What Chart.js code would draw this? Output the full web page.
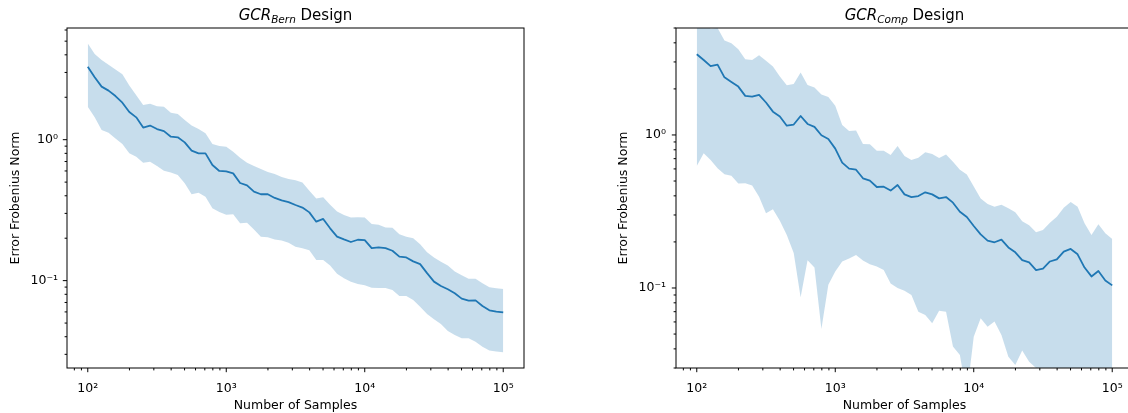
<!DOCTYPE html>
<html>
<head>
<meta charset="utf-8">
<script src="https://cdn.jsdelivr.net/npm/chart.js@4.4.1/dist/chart.umd.min.js"></script>
<style>
    html, body { margin: 0; padding: 0; background: #fff; overflow: hidden; }
    body { width: 1128px; height: 413px; position: relative; }
    .panel { position: absolute; top: 0; width: 564px; height: 413px; }
</style>
</head>
<body>
<div class="panel" style="left:0"><canvas id="chart-bern" width="564" height="413"></canvas></div>
<div class="panel" style="left:609px"><canvas id="chart-comp" width="564" height="413"></canvas></div>
<script>
var sampleCounts = [100, 112.2, 125.9, 141.3, 158.5, 177.8, 199.5, 223.9, 251.2, 281.8,
    316.2, 354.8, 398.1, 446.7, 501.2, 562.3, 631, 707.9, 794.3, 891.3,
    1000, 1122, 1259, 1413, 1585, 1778, 1995, 2239, 2512, 2818,
    3162, 3548, 3981, 4467, 5012, 5623, 6310, 7079, 7943, 8913,
    10000, 11220, 12589, 14125, 15849, 17783, 19953, 22387, 25119, 28184,
    31623, 35481, 39811, 44668, 50119, 56234, 63096, 70795, 79433, 89125, 100000];

var bernMean = [3.29, 2.77, 2.38, 2.23, 2.04, 1.83, 1.57, 1.44, 1.22, 1.26,
    1.19, 1.15, 1.05, 1.04, 0.957, 0.836, 0.80, 0.80, 0.661, 0.60,
    0.596, 0.577, 0.493, 0.474, 0.428, 0.41, 0.41, 0.386, 0.371, 0.361,
    0.344, 0.330, 0.305, 0.262, 0.274, 0.235, 0.205, 0.196, 0.188, 0.195,
    0.194, 0.170, 0.172, 0.170, 0.163, 0.148, 0.146, 0.137, 0.131, 0.113,
    0.0984, 0.0916, 0.0868, 0.0813, 0.0745, 0.0721, 0.0724, 0.0661, 0.0616, 0.0603, 0.0596];
var bernUpper = [4.82, 4.05, 3.67, 3.40, 3.15, 2.91, 2.42, 2.07, 1.76, 1.80,
    1.73, 1.71, 1.55, 1.52, 1.38, 1.26, 1.19, 1.11, 0.931, 0.902,
    0.891, 0.822, 0.745, 0.687, 0.65, 0.619, 0.59, 0.571, 0.544, 0.526,
    0.515, 0.496, 0.435, 0.382, 0.390, 0.346, 0.309, 0.292, 0.281, 0.282,
    0.281, 0.252, 0.249, 0.238, 0.237, 0.213, 0.205, 0.20, 0.181, 0.159,
    0.146, 0.136, 0.128, 0.116, 0.109, 0.103, 0.103, 0.0957, 0.0897, 0.0882, 0.0873];
var bernLower = [1.71, 1.44, 1.17, 1.12, 1.02, 0.931, 0.80, 0.757, 0.687, 0.698,
    0.65, 0.603, 0.586, 0.562, 0.49, 0.41, 0.421, 0.394, 0.326, 0.307,
    0.294, 0.296, 0.255, 0.257, 0.231, 0.205, 0.203, 0.196, 0.193, 0.186,
    0.174, 0.170, 0.164, 0.140, 0.140, 0.128, 0.112, 0.104, 0.0984, 0.0947,
    0.0927, 0.0892, 0.0885, 0.0885, 0.0859, 0.0778, 0.0778, 0.0729, 0.0654, 0.058,
    0.0532, 0.0493, 0.044, 0.0412, 0.039, 0.039, 0.0369, 0.034, 0.032, 0.0314, 0.031];

var compMean = [3.37, 3.09, 2.82, 2.88, 2.38, 2.22, 2.07, 1.80, 1.78, 1.83,
    1.63, 1.42, 1.32, 1.15, 1.17, 1.33, 1.18, 1.13, 0.995, 0.942,
    0.814, 0.659, 0.603, 0.593, 0.521, 0.503, 0.457, 0.459, 0.433, 0.471,
    0.409, 0.392, 0.399, 0.422, 0.409, 0.385, 0.393, 0.361, 0.315, 0.291,
    0.254, 0.224, 0.204, 0.199, 0.207, 0.184, 0.171, 0.152, 0.147, 0.131,
    0.134, 0.149, 0.154, 0.173, 0.18, 0.166, 0.136, 0.119, 0.129, 0.112, 0.104];
var compUpper = [6.1, 5.42, 4.95, 5.0, 4.14, 3.97, 3.63, 3.12, 3.09, 3.32,
    3.06, 2.80, 2.41, 2.11, 2.15, 2.56, 2.12, 2.04, 1.84, 1.77,
    1.55, 1.16, 1.06, 1.07, 0.874, 0.871, 0.79, 0.79, 0.74, 0.847,
    0.729, 0.687, 0.711, 0.77, 0.751, 0.707, 0.744, 0.669, 0.593, 0.551,
    0.46, 0.385, 0.354, 0.34, 0.35, 0.332, 0.312, 0.273, 0.257, 0.231,
    0.239, 0.267, 0.292, 0.335, 0.365, 0.34, 0.265, 0.222, 0.261, 0.228, 0.209];
var compLower = [0.627, 0.759, 0.687, 0.606, 0.553, 0.542, 0.481, 0.483, 0.467, 0.395,
    0.308, 0.327, 0.275, 0.222, 0.169, 0.087, 0.152, 0.136, 0.054, 0.105,
    0.128, 0.149, 0.156, 0.164, 0.151, 0.143, 0.138, 0.131, 0.107, 0.1,
    0.0961, 0.090, 0.070, 0.0667, 0.0588, 0.0711, 0.070, 0.0414, 0.0365, 0.02,
    0.0481, 0.0634, 0.0559, 0.0603, 0.0493, 0.0356, 0.0314, 0.039, 0.033, 0.03,
    0.01, 0.01, 0.01, 0.01, 0.01, 0.01, 0.01, 0.01, 0.01, 0.01, 0.01];

var xMajorTicks = [100, 1000, 10000, 100000];
var xTickLabels = ['10²', '10³', '10⁴', '10⁵'];
var yMajorTicks = [0.1, 1];
var yTickLabels = ['10⁻¹', '10⁰'];

var blue = '#1f77b4';
var bandColor = 'rgba(31, 119, 180, 0.25)';
var fontFamily = '"DejaVu Sans", sans-serif';
var labelSize = 12.5;

function points(values) {
    return sampleCounts.map(function (x, i) { return {x: x, y: values[i]}; });
}

// decade ticks are major, 2..9 are minor
function logTicks(scale) {
    var ticks = [];
    var lo = Math.floor(Math.log10(scale.min));
    var hi = Math.ceil(Math.log10(scale.max));
    for (var e = lo; e <= hi; e++) {
        for (var m = 1; m < 10; m++) {
            var v = m * Math.pow(10, e);
            if (v >= scale.min * 0.999 && v <= scale.max * 1.001) {
                ticks.push({value: v, major: m === 1});
            }
        }
    }
    scale.ticks = ticks;
}

function tickLabel(majors, labels) {
    return function (value) {
        for (var i = 0; i < majors.length; i++) {
            if (Math.abs(value / majors[i] - 1) < 1e-6) return labels[i];
        }
        return '';
    };
}

var axesFrame = {
    id: 'axesFrame',
    afterDraw: function (chart, args, opts) {
        var ctx = chart.ctx;
        var a = chart.chartArea;
        ctx.save();
        ctx.strokeStyle = '#000';
        ctx.lineWidth = 1;
        ctx.strokeRect(a.left, a.top, a.right - a.left, a.bottom - a.top);
        ['x', 'y'].forEach(function (id) {
            var scale = chart.scales[id];
            scale.ticks.forEach(function (t) {
                var len = t.major ? 4.2 : 2.4;
                var p = scale.getPixelForValue(t.value);
                ctx.beginPath();
                if (id === 'x') {
                    ctx.moveTo(p, a.bottom);
                    ctx.lineTo(p, a.bottom + len);
                } else {
                    ctx.moveTo(a.left, p);
                    ctx.lineTo(a.left - len, p);
                }
                ctx.stroke();
            });
        });

        // title with subscript
        ctx.fillStyle = '#000';
        ctx.textBaseline = 'alphabetic';
        ctx.font = 'italic 15px ' + fontFamily;
        var w1 = ctx.measureText(opts.main).width;
        ctx.font = 'italic 10.5px ' + fontFamily;
        var w2 = ctx.measureText(opts.sub).width;
        ctx.font = '15px ' + fontFamily;
        var w3 = ctx.measureText(opts.rest).width;
        var x = (a.left + a.right) / 2 - (w1 + w2 + w3) / 2;
        var base = a.top - 8;
        ctx.font = 'italic 15px ' + fontFamily;
        ctx.fillText(opts.main, x, base);
        ctx.font = 'italic 10.5px ' + fontFamily;
        ctx.fillText(opts.sub, x + w1, base + 3);
        ctx.font = '15px ' + fontFamily;
        ctx.fillText(opts.rest, x + w1 + w2, base);
        ctx.restore();
    }
};

function makeChart(canvasId, mean, upper, lower, yMin, yMax, sub, yTickPad, yTitlePad) {
    var ctx = document.getElementById(canvasId);
    return new Chart(ctx, {
        type: 'line',
        data: {
            datasets: [
                {data: points(upper), fill: '+1', backgroundColor: bandColor,
                    borderColor: 'transparent', borderWidth: 0, pointRadius: 0},
                {data: points(lower), fill: false, borderColor: 'transparent',
                    borderWidth: 0, pointRadius: 0},
                {data: points(mean), fill: false, borderColor: blue, borderWidth: 1.8,
                    borderJoinStyle: 'round', pointRadius: 0}
            ]
        },
        options: {
            responsive: false,
            animation: false,
            layout: {padding: {top: 28, right: 40, left: 0, bottom: 0}},
            plugins: {
                legend: {display: false},
                tooltip: {enabled: false},
                axesFrame: {main: 'GCR', sub: sub, rest: ' Design'}
            },
            scales: {
                x: {
                    type: 'logarithmic',
                    min: 70.8,
                    max: 141254,
                    grid: {display: false, drawTicks: false},
                    border: {display: false},
                    ticks: {
                        autoSkip: false, maxRotation: 0, padding: 13, color: '#000',
                        font: {family: fontFamily, size: labelSize},
                        callback: tickLabel(xMajorTicks, xTickLabels)
                    },
                    title: {
                        display: true, text: 'Number of Samples', color: '#000',
                        font: {family: fontFamily, size: labelSize}, padding: {top: 0, bottom: 0}
                    },
                    afterBuildTicks: logTicks,
                    afterFit: function (s) { s.height = 45; }
                },
                y: {
                    type: 'logarithmic',
                    min: yMin,
                    max: yMax,
                    grid: {display: false, drawTicks: false},
                    border: {display: false},
                    ticks: {
                        autoSkip: false, padding: yTickPad, color: '#000',
                        font: {family: fontFamily, size: labelSize},
                        callback: tickLabel(yMajorTicks, yTickLabels)
                    },
                    title: {
                        display: true, text: 'Error Frobenius Norm', color: '#000',
                        font: {family: fontFamily, size: labelSize}, padding: {top: yTitlePad, bottom: 0}
                    },
                    afterBuildTicks: logTicks,
                    afterFit: function (s) { s.width = 67; }
                }
            }
        },
        plugins: [axesFrame]
    });
}

makeChart('chart-bern', bernMean, bernUpper, bernLower, 0.024, 6.2, 'Bern', 9, 8);
makeChart('chart-comp', compMean, compUpper, compLower, 0.03, 5, 'Comp', 10, 7);
</script>
</body>
</html>
